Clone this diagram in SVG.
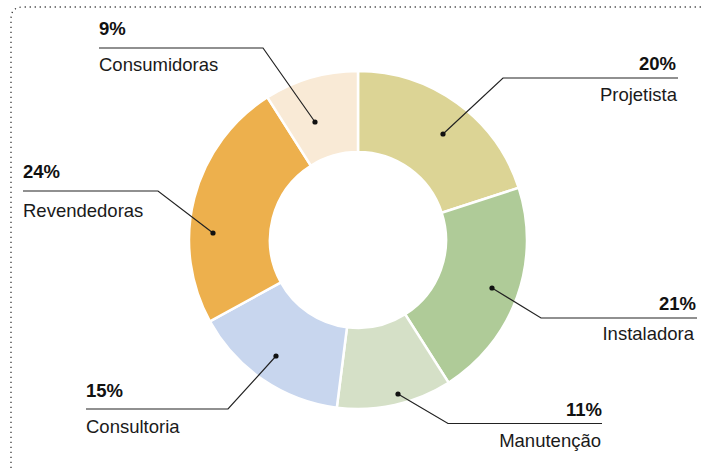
<svg xmlns="http://www.w3.org/2000/svg" width="701" height="468" viewBox="0 0 701 468">
<style>
.slice{stroke:#fff;stroke-width:2.5;stroke-linejoin:miter}
.pct{font-family:"Liberation Sans",Arial,sans-serif;font-weight:bold;font-size:18.5px;fill:#111}
.lbl{font-family:"Liberation Sans",Arial,sans-serif;font-size:18.5px;fill:#1a1a1a}
.lead{fill:none;stroke:#222;stroke-width:1.2}
.dot{fill:#111}
.end{text-anchor:end}
</style>
<rect width="701" height="468" fill="#fff"/>
<path d="M11,468 V19 Q11,7 23,7 H701" fill="none" stroke="#333" stroke-width="1.3" stroke-dasharray="1.2 3.8"/>
<g id="chart">
<g id="projetista"><path class="slice" fill="#DCD495" d="M358,71 A169,169 0 0 1 518.73,187.78 L441.69,212.81 A88,88 0 0 0 358,152 Z"/></g>
<g id="instaladora"><path class="slice" fill="#AFCB98" d="M518.73,187.78 A169,169 0 0 1 448.56,382.69 L405.15,314.30 A88,88 0 0 0 441.69,212.81 Z"/></g>
<g id="manutencao"><path class="slice" fill="#D5E0C7" d="M448.56,382.69 A169,169 0 0 1 336.82,407.67 L346.97,327.31 A88,88 0 0 0 405.15,314.30 Z"/></g>
<g id="consultoria"><path class="slice" fill="#C8D6EE" d="M336.82,407.67 A169,169 0 0 1 209.90,321.42 L280.88,282.39 A88,88 0 0 0 346.97,327.31 Z"/></g>
<g id="revendedoras"><path class="slice" fill="#EDB04D" d="M209.90,321.42 A169,169 0 0 1 267.44,97.31 L310.85,165.70 A88,88 0 0 0 280.88,282.39 Z"/></g>
<g id="consumidoras"><path class="slice" fill="#F9EAD6" d="M267.44,97.31 A169,169 0 0 1 358,71 L358,152 A88,88 0 0 0 310.85,165.70 Z"/></g>
</g>
<g id="connectors">
<polyline class="lead" points="99,48 263,48 315,122"/>
<circle class="dot" cx="315" cy="122" r="2.6"/>
<polyline class="lead" points="678,78 503,78 443,134"/>
<circle class="dot" cx="443" cy="134" r="2.6"/>
<polyline class="lead" points="23,191 158,191 213,233"/>
<circle class="dot" cx="213" cy="233" r="2.6"/>
<polyline class="lead" points="697,318 541,318 492,288"/>
<circle class="dot" cx="492" cy="288" r="2.6"/>
<polyline class="lead" points="602,423.5 448,423.5 398,394"/>
<circle class="dot" cx="398" cy="394" r="2.6"/>
<polyline class="lead" points="86,409 228,409 276,356"/>
<circle class="dot" cx="276" cy="356" r="2.6"/>
</g>
<g id="label-consumidoras">
<text class="pct" x="99" y="35">9%</text>
<text class="lbl" x="99" y="71">Consumidoras</text>
</g>
<g id="label-projetista">
<text class="pct end" x="676" y="70">20%</text>
<text class="lbl end" x="677" y="101">Projetista</text>
</g>
<g id="label-revendedoras">
<text class="pct" x="23" y="178">24%</text>
<text class="lbl" x="23" y="217">Revendedoras</text>
</g>
<g id="label-instaladora">
<text class="pct end" x="696" y="310">21%</text>
<text class="lbl end" x="694" y="340">Instaladora</text>
</g>
<g id="label-manutencao">
<text class="pct end" x="602" y="416">11%</text>
<text class="lbl end" x="601" y="447">Manutenção</text>
</g>
<g id="label-consultoria">
<text class="pct" x="86" y="397">15%</text>
<text class="lbl" x="86" y="433">Consultoria</text>
</g>
</svg>
